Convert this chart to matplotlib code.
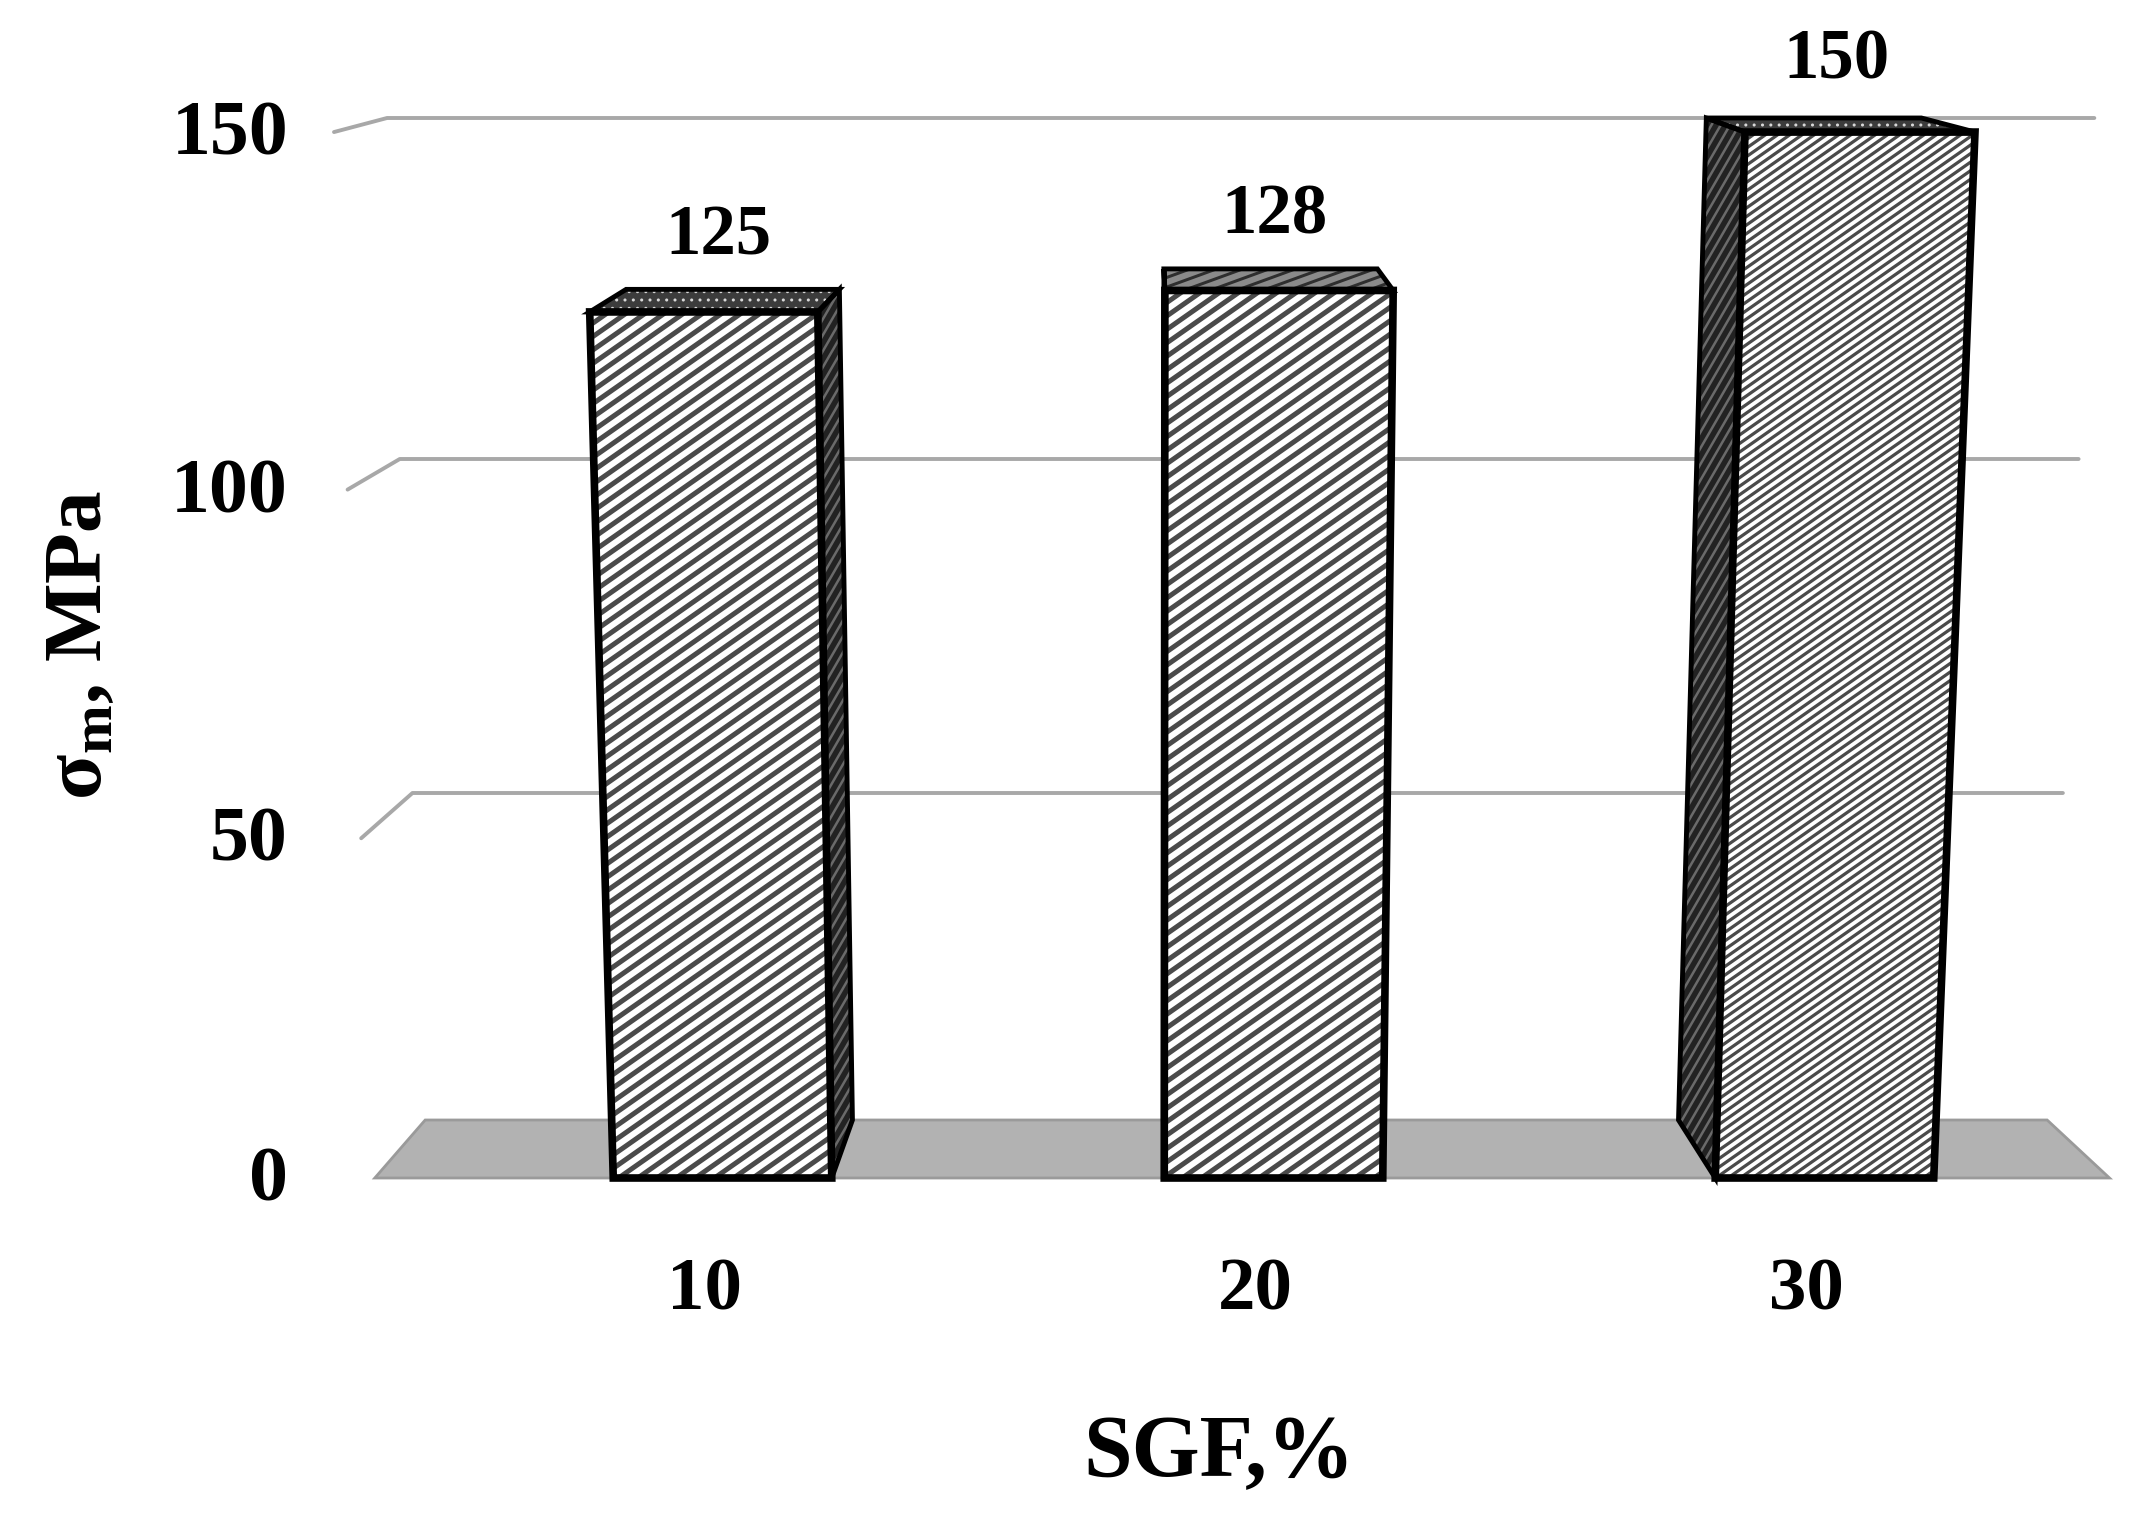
import numpy as np
import matplotlib
matplotlib.use("Agg")
import matplotlib.pyplot as plt
from matplotlib.patches import Polygon
from matplotlib.collections import LineCollection

# data
categories = ["10", "20", "30"]
strength = [125, 128, 150]
y_ticks = [0, 50, 100, 150]
y_max = 150

# fake 3D box, in image pixels
W, H = 2136, 1529
CENTER_U = 1150      # horizontal vanishing centre
CONV = 0.05          # convergence of vertical edges (top -> floor)
SHRINK = 0.065       # shrink of the back plane toward the centre
FIRST_X, STEP, HALF = 700, 580, 115
WALL_L, WALL_R = 334, 2160

FONT = "Liberation Serif"
PX = 72 / 100  # points per pixel at dpi 100


def project(x, val, depth):
    # x: horizontal position on the front plane at the top, val: MPa, depth: 0 front .. 1 back
    g = 1 - CONV * (y_max - val) / y_max
    u = CENTER_U + (x - CENTER_U) * g
    u = CENTER_U + (u - CENTER_U) * (1 - SHRINK * depth)
    vf = 1178 - 6.973 * val + 0.00178 * val * (y_max - val)
    vb = 1120 - 6.68 * val + 0.0014 * val * (y_max - val)
    return u, vf + (vb - vf) * depth


def add_hatch(ax, verts, spacing, angle, color, lw, zorder):
    verts = np.asarray(verts)
    clip = Polygon(verts, closed=True, facecolor="none", edgecolor="none")
    ax.add_patch(clip)
    a = np.radians(angle)
    d = np.array([np.cos(a), -np.sin(a)])
    n = np.array([np.sin(a), np.cos(a)])
    c = verts @ n
    t = verts @ d
    segs = []
    for ci in np.arange(c.min() - spacing, c.max() + spacing, spacing):
        p0 = ci * n + (t.min() - 10) * d
        p1 = ci * n + (t.max() + 10) * d
        segs.append([p0, p1])
    lc = LineCollection(segs, colors=color, linewidths=lw * PX, zorder=zorder)
    lc.set_clip_path(clip)
    ax.add_collection(lc)


fig = plt.figure(figsize=(W / 100, H / 100), dpi=100)
ax = fig.add_axes([0, 0, 1, 1])
ax.set_xlim(0, W)
ax.set_ylim(H, 0)
ax.axis("off")

# floor
floor = [project(WALL_L, 0, 0), project(WALL_L, 0, 1), project(WALL_R, 0, 1), project(WALL_R, 0, 0)]
ax.add_patch(Polygon(floor, closed=True, facecolor="#b2b2b2", edgecolor="#9a9a9a", lw=2, zorder=1))

# gridlines on side wall + back wall, and tick labels
for t in y_ticks:
    if t > 0:
        pts = np.array([project(WALL_L, t, 0), project(WALL_L, t, 1), project(WALL_R, t, 1)])
        ax.plot(pts[:, 0], pts[:, 1], color="#a8a8a8", lw=2.8, solid_capstyle="round", zorder=2)
    u, v = project(WALL_L, t, 0)
    ax.text(288, v + 4, str(t), ha="right", va="center", fontsize=56,
            fontweight="bold", family=FONT, zorder=5)

# bars
front_spacing = [11, 11, 7]
front_lw = [5, 5, 3.2]
top_dotted = [True, False, True]
for i, (cat, val) in enumerate(zip(categories, strength)):
    xc = FIRST_X + i * STEP
    xl, xr = xc - HALF, xc + HALF
    front = [project(xl, 0, 0), project(xr, 0, 0), project(xr, val, 0), project(xl, val, 0)]
    top = [project(xl, val, 0), project(xr, val, 0), project(xr, val, 1), project(xl, val, 1)]
    sx = xl if xc > CENTER_U else xr
    side = [project(sx, 0, 0), project(sx, val, 0), project(sx, val, 1), project(sx, 0, 1)]

    ax.add_patch(Polygon(side, closed=True, facecolor="#222222", edgecolor="none", zorder=3))
    add_hatch(ax, side, 8, 60, "#6a6a6a", 2.5, 3.1)
    ax.add_patch(Polygon(side, closed=True, facecolor="none", edgecolor="black", lw=3.5, zorder=3.2))

    if top_dotted[i]:
        ax.add_patch(Polygon(top, closed=True, facecolor="#3c3c3c", edgecolor="#d8d8d8",
                             hatch="..", lw=0, zorder=3))
    else:
        ax.add_patch(Polygon(top, closed=True, facecolor="#8a8a8a", edgecolor="none", zorder=3))
        add_hatch(ax, top, 9, 20, "#2e2e2e", 3, 3.1)
    ax.add_patch(Polygon(top, closed=True, facecolor="none", edgecolor="black", lw=3.5, zorder=3.2))

    ax.add_patch(Polygon(front, closed=True, facecolor="white", edgecolor="none", zorder=4))
    add_hatch(ax, front, front_spacing[i], 35, "#4a4a4a", front_lw[i], 4.1)
    ax.add_patch(Polygon(front, closed=True, facecolor="none", edgecolor="black", lw=5.5,
                         joinstyle="miter", zorder=4.2))

    # value label above the bar
    u, v = project(xc, val, 0.5)
    ax.annotate(str(val), (u, v), xytext=(0, 64), textcoords="offset pixels",
                ha="center", va="center", fontsize=51, fontweight="bold", family=FONT, zorder=5)

    # category label under the floor
    u, _ = project(xc, 0, 0)
    _, v = project(xc, -17, 0)
    ax.text(u - 18, v, cat, ha="center", va="center", fontsize=54,
            fontweight="bold", family=FONT, zorder=5)

plt.rcParams["mathtext.fontset"] = "custom"
plt.rcParams["mathtext.rm"] = "Liberation Serif:bold"
plt.rcParams["mathtext.it"] = "Liberation Serif:italic:bold"

ax.text(1219, 1455, "SGF,%", ha="center", va="center", fontsize=63,
        fontweight="bold", family=FONT)
ax.text(82, 645, r"$\mathrm{\sigma_m}$, MPa", ha="center", va="center", rotation=90,
        fontsize=60, fontweight="bold", family=FONT)

fig.savefig("out.png", dpi=100, facecolor="white")
